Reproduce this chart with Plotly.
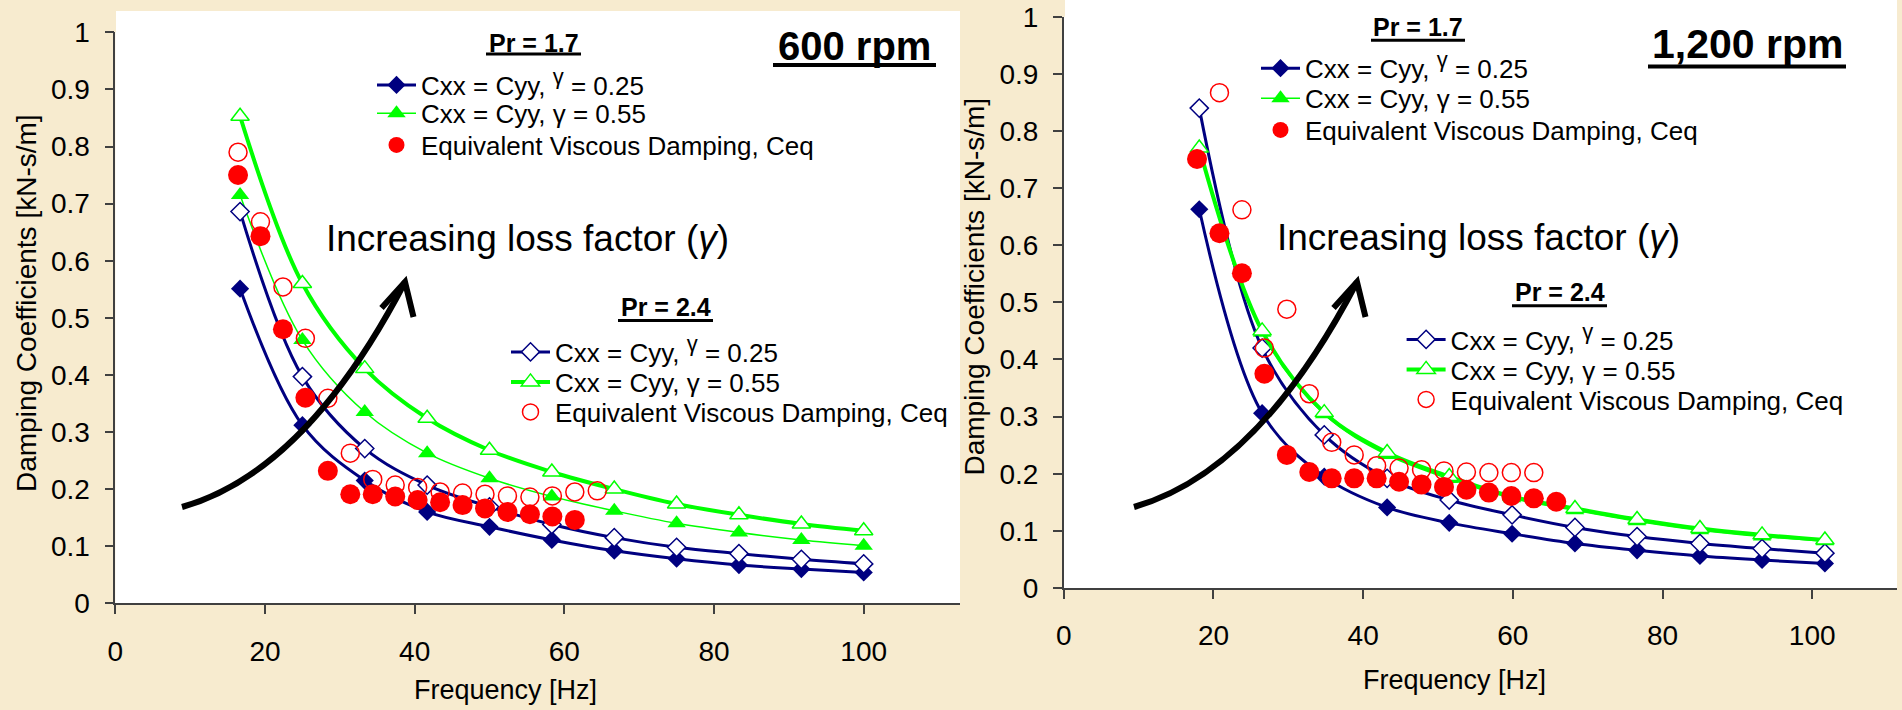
import plotly.graph_objects as go

W, H = 1902, 710
def px(x): return x / W
def py(y): return 1 - y / H

NAVY = "#000080"; GREEN = "#00FF00"; RED = "#FF0000"
BG = "#F7EBCF"
FONT = "Liberation Sans, Arial, sans-serif"

# ---------------- data: 600 rpm ----------------
f_pred_600 = [16.67, 25.0, 33.33, 41.67, 50.0, 58.33, 66.67, 75.0, 83.33, 91.67, 100.0]
c17_g25_600 = [0.551, 0.312, 0.215, 0.160, 0.134, 0.111, 0.092, 0.078, 0.067, 0.060, 0.054]
c17_g55_600 = [0.715, 0.461, 0.335, 0.263, 0.219, 0.187, 0.162, 0.140, 0.124, 0.111, 0.101]
c24_g25_600 = [0.686, 0.397, 0.271, 0.207, 0.169, 0.138, 0.115, 0.098, 0.087, 0.077, 0.069]
c24_g55_600 = [0.853, 0.560, 0.411, 0.324, 0.268, 0.230, 0.200, 0.174, 0.155, 0.139, 0.127]
f_ceq17_600 = [16.4, 19.4, 22.4, 25.4, 28.4, 31.4, 34.4, 37.4, 40.4, 43.4, 46.4, 49.4, 52.4, 55.4, 58.4, 61.4]
ceq17_600 = [0.750, 0.643, 0.480, 0.360, 0.232, 0.191, 0.191, 0.187, 0.181, 0.177, 0.172, 0.166, 0.160, 0.156, 0.152, 0.146]
f_ceq24_600 = [16.4, 19.4, 22.4, 25.4, 28.4, 31.4, 34.4, 37.4, 40.4, 43.4, 46.4, 49.4, 52.4, 55.4, 58.4, 61.4, 64.4]
ceq24_600 = [0.790, 0.668, 0.554, 0.464, 0.359, 0.263, 0.217, 0.207, 0.203, 0.195, 0.193, 0.191, 0.188, 0.186, 0.188, 0.195, 0.197]

# ---------------- data: 1,200 rpm ----------------
f_pred_1200 = [18.1, 26.5, 34.8, 43.2, 51.5, 59.9, 68.3, 76.6, 85.0, 93.3, 101.7]
c17_g25_1200 = [0.663, 0.306, 0.195, 0.141, 0.114, 0.095, 0.078, 0.066, 0.056, 0.049, 0.043]
c17_g55_1200 = [0.770, 0.447, 0.304, 0.233, 0.191, 0.157, 0.136, 0.117, 0.101, 0.090, 0.082]
c24_g25_1200 = [0.840, 0.420, 0.268, 0.192, 0.154, 0.128, 0.106, 0.090, 0.078, 0.069, 0.061]
c24_g55_1200 = [0.770, 0.450, 0.307, 0.237, 0.195, 0.160, 0.139, 0.120, 0.104, 0.093, 0.084]
f_ceq17_1200 = [17.8, 20.8, 23.8, 26.8, 29.8, 32.8, 35.8, 38.8, 41.8, 44.8, 47.8, 50.8, 53.8, 56.8, 59.8, 62.8, 65.8]
ceq17_1200 = [0.751, 0.621, 0.551, 0.375, 0.233, 0.203, 0.192, 0.192, 0.192, 0.186, 0.181, 0.177, 0.172, 0.167, 0.161, 0.157, 0.151]
f_ceq24_1200 = [20.8, 23.8, 26.8, 29.8, 32.8, 35.8, 38.8, 41.8, 44.8, 47.8, 50.8, 53.8, 56.8, 59.8, 62.8]
ceq24_1200 = [0.867, 0.662, 0.420, 0.488, 0.340, 0.255, 0.233, 0.214, 0.210, 0.207, 0.205, 0.203, 0.202, 0.202, 0.202]

x_ticks = [0, 20, 40, 60, 80, 100]
y_ticks = [0, 0.1, 0.2, 0.3, 0.4, 0.5, 0.6, 0.7, 0.8, 0.9, 1]
y_ticktext = ["0", "0.1", "0.2", "0.3", "0.4", "0.5", "0.6", "0.7", "0.8", "0.9", "1"]

LBL_G25_A = "Cxx = Cyy, <sup><span style='font-size:22px'>γ</span></sup> = 0.25"
LBL_G55 = "Cxx = Cyy, γ = 0.55"
LBL_CEQ = "Equivalent Viscous Damping, Ceq"

fig = go.Figure()

def add_set(xa, ya, f_pred, c17g25, c17g55, c24g25, c24g55, fc17, c17, fc24, c24, lgs):
    fig.add_trace(go.Scatter(x=f_pred, y=c17g25, mode="lines+markers", name=LBL_G25_A,
        line=dict(color=NAVY, width=3, shape="spline", smoothing=1),
        marker=dict(symbol="diamond", size=14, color=NAVY), xaxis=xa, yaxis=ya, legend=lgs[0]))
    fig.add_trace(go.Scatter(x=f_pred, y=c17g55, mode="lines+markers", name=LBL_G55,
        line=dict(color=GREEN, width=1.5, shape="spline", smoothing=1),
        marker=dict(symbol="triangle-up", size=16, color=GREEN), xaxis=xa, yaxis=ya, legend=lgs[1]))
    fig.add_trace(go.Scatter(x=f_pred, y=c24g25, mode="lines+markers", name=LBL_G25_A,
        line=dict(color=NAVY, width=3, shape="spline", smoothing=1),
        marker=dict(symbol="diamond", size=14, color="white", line=dict(color=NAVY, width=1.5)),
        xaxis=xa, yaxis=ya, legend=lgs[3]))
    fig.add_trace(go.Scatter(x=f_pred, y=c24g55, mode="lines+markers", name=LBL_G55,
        line=dict(color=GREEN, width=4, shape="spline", smoothing=1),
        marker=dict(symbol="triangle-up", size=16, color="white", line=dict(color=GREEN, width=1.5)),
        xaxis=xa, yaxis=ya, legend=lgs[4]))
    fig.add_trace(go.Scatter(x=fc17, y=c17, mode="markers", name=LBL_CEQ,
        marker=dict(symbol="circle", size=20, color=RED), xaxis=xa, yaxis=ya, legend=lgs[2]))
    fig.add_trace(go.Scatter(x=fc24, y=c24, mode="markers", name=LBL_CEQ,
        marker=dict(symbol="circle-open", size=18, color=RED, line=dict(width=1.5)),
        xaxis=xa, yaxis=ya, legend=lgs[5]))

left_legs = ["legend", "legend2", "legend3", "legend4", "legend5", "legend6"]
right_legs = ["legend7", "legend8", "legend9", "legend10", "legend11", "legend12"]
add_set("x", "y", f_pred_600, c17_g25_600, c17_g55_600, c24_g25_600, c24_g55_600,
        f_ceq17_600, ceq17_600, f_ceq24_600, ceq24_600, left_legs)
add_set("x2", "y2", f_pred_1200, c17_g25_1200, c17_g55_1200, c24_g25_1200, c24_g55_1200,
        f_ceq17_1200, ceq17_1200, f_ceq24_1200, ceq24_1200, right_legs)

PXHZ = 7.484
axis_common = dict(showgrid=False, zeroline=False, showline=True, linecolor="#404040", linewidth=1.5,
                   ticks="outside", ticklen=9, tickcolor="#404040", tickwidth=1.5, automargin=False,
                   tickfont=dict(family=FONT, size=28, color="black"))

x1_l, x1_r = 115.3, 960
x2_l, x2_r = 1063.8, 1897
fig.update_layout(
    xaxis=dict(domain=[px(x1_l), px(x1_r)], range=[0, (x1_r - x1_l) / PXHZ], tickvals=x_ticks,
               anchor="y", ticklabelstandoff=13, **axis_common),
    yaxis=dict(domain=[py(603.3), py(32.3)], range=[0, 1], tickvals=y_ticks, ticktext=y_ticktext,
               anchor="x", ticklabelstandoff=9, **axis_common),
    xaxis2=dict(domain=[px(x2_l), px(x2_r)], range=[0, (x2_r - x2_l) / PXHZ], tickvals=x_ticks,
                anchor="y2", ticklabelstandoff=13, **axis_common),
    yaxis2=dict(domain=[py(588), py(16.7)], range=[0, 1], tickvals=y_ticks, ticktext=y_ticktext,
                anchor="x2", ticklabelstandoff=9, **axis_common),
)

# one legend per row so row spacing matches the original
leg_common = dict(bgcolor="rgba(0,0,0,0)", font=dict(family=FONT, size=26, color="black"),
                  xanchor="left", yanchor="middle", itemsizing="trace", itemwidth=39,
                  borderwidth=0, visible=True)
leg_pos = {
    "legend": (394, 85), "legend2": (394, 113.3), "legend3": (394, 145),
    "legend4": (528, 352), "legend5": (528, 382), "legend6": (528, 412),
    "legend7": (1278, 68.3), "legend8": (1278, 98.3), "legend9": (1278, 130),
    "legend10": (1423.6, 339.5), "legend11": (1423.6, 369.5), "legend12": (1423.6, 399.5),
}
leg_layout = {}
for k, (mx, my) in leg_pos.items():
    leg_layout[k] = dict(x=px(mx - 22), y=py(my), **leg_common)
fig.update_layout(showlegend=True, **leg_layout)

shapes = [
    dict(type="rect", xref="paper", yref="paper", x0=px(116), x1=px(960), y0=py(603), y1=py(11),
         fillcolor="white", line=dict(width=0), layer="below"),
    dict(type="rect", xref="paper", yref="paper", x0=px(1065), x1=px(1897), y0=py(588), y1=1,
         fillcolor="white", line=dict(width=0), layer="below"),
]

def uline(x0, x1, y, w):
    shapes.append(dict(type="line", xref="paper", yref="paper", x0=px(x0), x1=px(x1),
                       y0=py(y), y1=py(y), line=dict(color="black", width=w)))

uline(486, 581, 54, 3)
uline(773, 936, 65, 4)
uline(618, 713, 320.5, 3)
uline(1371, 1465, 40.3, 3)
uline(1648, 1846, 66.5, 4)
uline(1512, 1607, 305.7, 3)

def arrow(dx):
    p0 = (182 + dx, 507); c = (306 + dx, 472); p2 = (405 + dx, 282)
    path = "M {} {} Q {} {} {} {}".format(px(p0[0]), py(p0[1]), px(c[0]), py(c[1]), px(p2[0]), py(p2[1]))
    shapes.append(dict(type="path", xref="paper", yref="paper", path=path,
                       line=dict(color="black", width=6)))
    head = "M {} {} L {} {} L {} {}".format(px(381.5 + dx), py(308), px(p2[0]), py(p2[1]), px(413.5 + dx), py(317))
    shapes.append(dict(type="path", xref="paper", yref="paper", path=head,
                       line=dict(color="black", width=6)))

arrow(0)
arrow(952)

annotations = []
def text(x, y, s, size, bold=False, angle=0):
    annotations.append(dict(xref="paper", yref="paper", x=px(x), y=py(y), text=("<b>%s</b>" % s) if bold else s,
                            showarrow=False, xanchor="center", yanchor="middle", textangle=angle,
                            font=dict(family=FONT, size=size, color="black")))

text(533.5, 43, "Pr = 1.7", 25, bold=True)
text(854.5, 46, "600 rpm", 40, bold=True)
text(666, 307, "Pr = 2.4", 25, bold=True)
text(527, 238, "Increasing loss factor (<i>γ</i>)", 37)
text(1418, 27.5, "Pr = 1.7", 25, bold=True)
text(1747, 44, "1,200 rpm", 41, bold=True)
text(1559.5, 292, "Pr = 2.4", 25, bold=True)
text(1478.6, 237, "Increasing loss factor (<i>γ</i>)", 37)
text(505, 690, "Frequency [Hz]", 27)
text(1454, 680, "Frequency [Hz]", 27)
text(26, 303, "Damping Coefficients [kN-s/m]", 28, angle=-90)
text(973.5, 287, "Damping Coefficients [kN-s/m]", 28, angle=-90)

fig.update_layout(width=W, height=H, margin=dict(l=0, r=0, t=0, b=0, autoexpand=False),
                  paper_bgcolor=BG, plot_bgcolor="white", shapes=shapes, annotations=annotations,
                  font=dict(family=FONT))

# remove the browser's default page margin so the figure sits at the window's top-left corner
fig.write_html("out.html", config={"displayModeBar": False},
               post_script="document.body.style.margin='0px';")
